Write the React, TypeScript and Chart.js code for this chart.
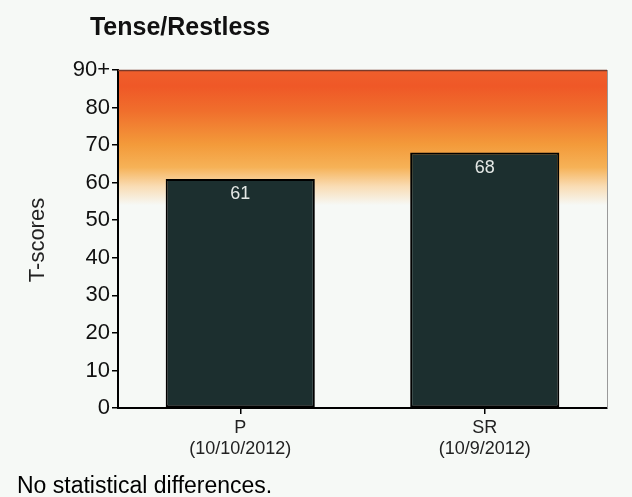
import React, { useEffect, useRef } from "react";
import { Chart, registerables } from "chart.js";

Chart.register(...registerables);

const categories: string[][] = [["P", "(10/10/2012)"], ["SR", "(10/9/2012)"]];
const tScores: number[] = [61, 68];
const yTicks: number[] = [0, 10, 20, 30, 40, 50, 60, 70, 80, 90];
const chartTitle = "Tense/Restless";
const yAxisTitle = "T-scores";
const footerText = "No statistical differences.";

const BG = "#f6f9f6";
const FONT = "'Liberation Sans', Arial, sans-serif";

export default function App() {
  const ref = useRef<HTMLCanvasElement | null>(null);

  useEffect(() => {
    document.body.style.margin = "0";
    document.body.style.background = BG;
    const canvas = ref.current;
    if (!canvas) return;

    const decor = {
      id: "decor",
      beforeDraw(chart: any) {
        const { ctx, chartArea, scales } = chart;
        ctx.save();
        ctx.fillStyle = BG;
        ctx.fillRect(0, 0, chart.width, chart.height);
        const y = scales.y;
        const yTop = y.getPixelForValue(90);
        const yBot = y.getPixelForValue(54);
        const g = ctx.createLinearGradient(0, yTop, 0, yBot);
        g.addColorStop(0, "#ef5f2c");
        g.addColorStop(0.12, "#ef5827");
        g.addColorStop(0.3, "#f06e2c");
        g.addColorStop(0.55, "#f39a3a");
        g.addColorStop(0.72, "#f6b257");
        g.addColorStop(0.86, "#f9dcb4");
        g.addColorStop(1, BG);
        ctx.fillStyle = g;
        ctx.fillRect(chartArea.left, yTop, chartArea.right - chartArea.left, yBot - yTop);
        ctx.restore();
      },
      afterDatasetsDraw(chart: any) {
        const { ctx } = chart;
        const meta = chart.getDatasetMeta(0);
        ctx.save();
        ctx.fillStyle = "#e4e8e6";
        ctx.font = "18px " + FONT;
        ctx.textAlign = "center";
        ctx.textBaseline = "middle";
        meta.data.forEach((bar: any, i: number) => {
          ctx.fillText(String(tScores[i]), bar.x, bar.y + 15);
        });
        ctx.restore();
      },
      afterDraw(chart: any) {
        const { ctx, chartArea } = chart;
        ctx.save();
        ctx.strokeStyle = "#7a3a2a";
        ctx.lineWidth = 1.5;
        ctx.beginPath();
        ctx.moveTo(chartArea.left, chartArea.top + 0.5);
        ctx.lineTo(chartArea.right, chartArea.top + 0.5);
        ctx.stroke();
        ctx.strokeStyle = "#9a9a9a";
        ctx.lineWidth = 1;
        ctx.beginPath();
        ctx.moveTo(chartArea.right + 0.5, chartArea.top);
        ctx.lineTo(chartArea.right + 0.5, chartArea.bottom);
        ctx.stroke();
        ctx.fillStyle = "#111";
        ctx.font = "bold 25px " + FONT;
        ctx.textAlign = "center";
        ctx.textBaseline = "middle";
        ctx.fillText(chartTitle, 180, 28);
        ctx.save();
        ctx.translate(38, 240);
        ctx.rotate(-Math.PI / 2);
        ctx.font = "22px " + FONT;
        ctx.fillStyle = "#222";
        ctx.fillText(yAxisTitle, 0, 0);
        ctx.restore();
        ctx.font = "23px " + FONT;
        ctx.fillStyle = "#000";
        ctx.textAlign = "left";
        ctx.fillText(footerText, 17, 487);
        ctx.restore();
      },
    };

    const chart = new Chart(canvas, {
      type: "bar",
      data: {
        labels: categories,
        datasets: [
          {
            data: tScores,
            backgroundColor: "#1c2f2f",
            borderColor: "#000",
            borderWidth: 2,
            borderSkipped: false,
            barPercentage: 0.61,
            categoryPercentage: 1,
          },
        ],
      },
      options: {
        animation: false,
        responsive: false,
        maintainAspectRatio: false,
        layout: { padding: { top: 70, right: 25, left: 0, bottom: 0 } },
        plugins: { legend: { display: false }, tooltip: { enabled: false }, title: { display: false } },
        scales: {
          x: {
            afterFit: (s: any) => {
              s.height = 89;
            },
            grid: {
              offset: false,
              drawOnChartArea: false,
              drawTicks: true,
              tickLength: 6,
              color: "#000",
              lineWidth: 1.5,
            },
            border: { display: true, color: "#000", width: 2 },
            ticks: {
              color: "#222",
              font: { size: 18, family: FONT, lineHeight: 1.2 },
              padding: 3,
              maxRotation: 0,
            },
          },
          y: {
            min: 0,
            max: 90,
            afterFit: (s: any) => {
              s.width = 118;
            },
            afterBuildTicks: (s: any) => {
              s.ticks = yTicks.map((v) => ({ value: v }));
            },
            grid: {
              drawOnChartArea: false,
              drawTicks: true,
              tickLength: 6,
              color: "#000",
              lineWidth: 1.5,
            },
            border: { display: true, color: "#000", width: 2 },
            ticks: {
              color: "#111",
              font: { size: 22, family: FONT },
              padding: 2,
              callback: (v: any) => (Number(v) === 90 ? "90+" : String(v)),
            },
          },
        },
      },
      plugins: [decor],
    });

    return () => chart.destroy();
  }, []);

  return (
    <div style={{ width: 632, height: 497, background: BG }}>
      <canvas ref={ref} width={632} height={497} style={{ display: "block", width: 632, height: 497 }} />
    </div>
  );
}
